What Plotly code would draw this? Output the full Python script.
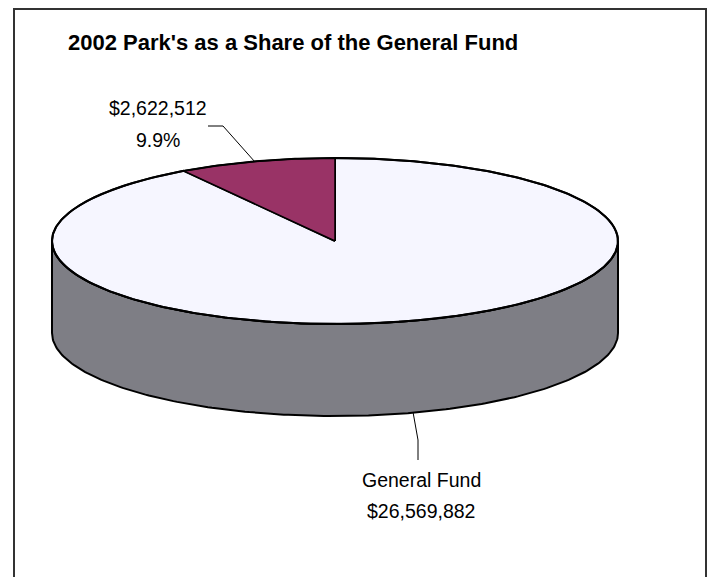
import numpy as np
import plotly.graph_objects as go

# ---- data ----
categories = ["General Fund", "Parks"]
values = [26569882, 2622512]
value_labels = ["$26,569,882", "$2,622,512"]
pct_labels = ["", "9.9%"]
title_text = "2002 Park's as a Share of the General Fund"

# ---- styling / geometry (layout only) ----
W, H = 711, 577
cx, cy, rx, ry, depth = 335, 241, 283, 83, 92
top_colors = ["#F6F6FF", "#993366"]
side_color = "#7E7E85"
FONT = "Arial, Liberation Sans, sans-serif"

def pt(theta_deg, dy=0.0):
    t = np.radians(theta_deg)
    return cx + rx * np.sin(t), cy - ry * np.cos(t) + dy

fig = go.Figure()

# side wall (front half)
ts = np.linspace(90, 270, 200)
x1, y1 = pt(ts)
x2, y2 = pt(ts[::-1], depth)
fig.add_trace(go.Scatter(
    x=np.concatenate([x1, x2, x1[:1]]), y=np.concatenate([y1, y2, y1[:1]]),
    mode="lines", fill="toself", fillcolor=side_color,
    line=dict(color="black", width=2), hoverinfo="skip", showlegend=False))

# top face slices, clockwise from 12 o'clock
total = float(sum(values))
start = 0.0
for i, v in enumerate(values):
    span = 360.0 * v / total
    ang = np.linspace(start, start + span, max(4, int(span * 2)))
    xs, ys = pt(ang)
    X = np.concatenate([[cx], xs, [cx]])
    Y = np.concatenate([[cy], ys, [cy]])
    fig.add_trace(go.Scatter(
        x=X, y=Y, mode="lines", fill="toself", fillcolor=top_colors[i],
        line=dict(color="black", width=2 if i == 0 else 1.5),
        hoverinfo="skip", showlegend=False))
    start += span

# outer rim of top ellipse
ta = np.linspace(0, 360, 400)
xr, yr = pt(ta)
fig.add_trace(go.Scatter(x=xr, y=yr, mode="lines",
                         line=dict(color="black", width=2),
                         hoverinfo="skip", showlegend=False))

# leader lines
fig.add_trace(go.Scatter(x=[208, 223, 255], y=[126, 126, 162], mode="lines",
                         line=dict(color="black", width=1),
                         hoverinfo="skip", showlegend=False))
fig.add_trace(go.Scatter(x=[413, 418, 418], y=[412, 440, 460], mode="lines",
                         line=dict(color="black", width=1),
                         hoverinfo="skip", showlegend=False))

ann = [
    dict(x=66, y=42, text="<b>" + title_text + "</b>", xanchor="left",
         font=dict(size=22, family=FONT, color="black")),
    dict(x=158, y=108, text=value_labels[1], xanchor="center",
         font=dict(size=19.5, family=FONT, color="black")),
    dict(x=158, y=140, text=pct_labels[1], xanchor="center",
         font=dict(size=19.5, family=FONT, color="black")),
    dict(x=421, y=480, text=categories[0], xanchor="center",
         font=dict(size=19.5, family=FONT, color="black")),
    dict(x=421, y=511, text=value_labels[0], xanchor="center",
         font=dict(size=19.5, family=FONT, color="black")),
]
for a in ann:
    a.update(xref="x", yref="y", yanchor="middle", showarrow=False)

fig.update_layout(
    width=W, height=H, margin=dict(l=0, r=0, t=0, b=0),
    paper_bgcolor="white", plot_bgcolor="white",
    xaxis=dict(range=[0, W], visible=False, fixedrange=True),
    yaxis=dict(range=[H, 0], visible=False, fixedrange=True),
    annotations=ann,
    shapes=[dict(type="rect", xref="x", yref="y", x0=14, y0=9, x1=706, y1=600,
                 line=dict(color="#333333", width=2), layer="below")],
)

fig.write_html("out.html")
